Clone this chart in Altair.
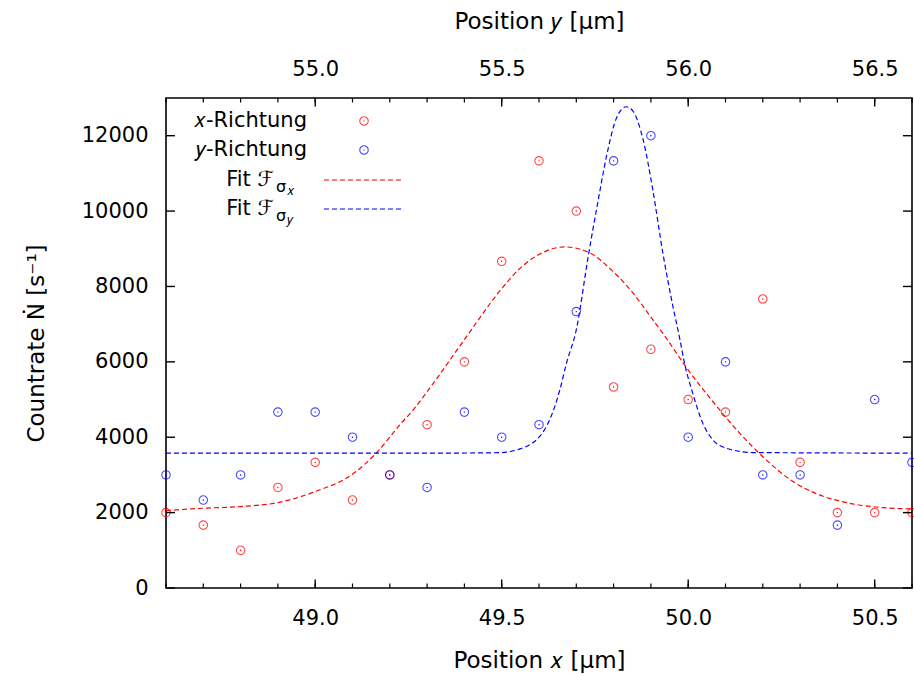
import altair as alt
import pandas as pd

# ---------------- data ----------------
pos_x = [48.6, 48.7, 48.8, 48.9, 49.0, 49.1, 49.2, 49.3, 49.4, 49.5, 49.6,
         49.7, 49.8, 49.9, 50.0, 50.1, 50.2, 50.3, 50.4, 50.5, 50.6]
pos_y = [54.6, 54.7, 54.8, 54.9, 55.0, 55.1, 55.2, 55.3, 55.4, 55.5, 55.6,
         55.7, 55.8, 55.9, 56.0, 56.1, 56.2, 56.3, 56.4, 56.5, 56.6]
rate_x = [2000, 1667, 1000, 2667, 3333, 2333, 3000, 4333, 6000, 8667, 11333,
          10000, 5333, 6333, 5000, 4667, 7667, 3333, 2000, 2000, 2000]
rate_y = [3000, 2333, 3000, 4667, 4667, 4000, 3000, 2667, 4667, 4000, 4333,
          7333, 11333, 12000, 4000, 6000, 3000, 3000, 1667, 5000, 3333]

# fit curves
fit_x_pos = [48.6, 48.7, 48.8, 48.9, 49.0, 49.1, 49.165, 49.227, 49.263, 49.317,
             49.406, 49.495, 49.549, 49.602, 49.669, 49.736, 49.798, 49.852,
             49.905, 49.941, 49.995, 50.066, 50.138, 50.209, 50.281, 50.352,
             50.432, 50.521, 50.6]
fit_x_rate = [2053, 2117, 2160, 2266, 2558, 3020, 3594, 4329, 4728, 5437,
              6675, 7880, 8480, 8860, 9049, 8890, 8401, 7827,
              7118, 6632, 5850, 4948, 4109, 3400, 2823, 2470,
              2250, 2133, 2098]

fit_y_pos = [54.6, 55.3, 55.495, 55.549, 55.575, 55.6, 55.629, 55.656, 55.674,
             55.7, 55.732, 55.759, 55.781, 55.808, 55.834, 55.852, 55.879,
             55.905, 55.932, 55.959, 55.977, 55.990, 56.012, 56.039, 56.066,
             56.102, 56.173, 56.6]
fit_y_rate = [3578, 3578, 3590, 3690, 3798, 4000, 4470, 5259, 5976,
              6852, 8800, 10305, 11455, 12475, 12768, 12651, 11899,
              10571, 8890, 7472, 6632, 5968, 5171, 4374, 3931,
              3710, 3594, 3578]

major_x = [49.0, 49.5, 50.0, 50.5]
major_y2 = [55.0, 55.5, 56.0, 56.5]
major_rate = [0, 2000, 4000, 6000, 8000, 10000, 12000]

legend_labels = ["\U0001D465-Richtung", "\U0001D466-Richtung", "Fit \u2131", "Fit \u2131"]
legend_sub = ["\u03C3", "\u03C3"]
legend_subsub = ["\U0001D465", "\U0001D466"]

# ---------------- styling ----------------
W, H = 746, 490
FONT = "DejaVu Sans"
FS = 21
TFS = 23
RED = "#ff0000"
BLUE = "#0000ff"

xs = alt.Scale(domain=[48.6, 50.6], nice=False, zero=False)
x2s = alt.Scale(domain=[54.6, 56.6], nice=False, zero=False)
ys = alt.Scale(domain=[0, 13000], nice=False, zero=False)

red_df = pd.DataFrame({"pos": pos_x, "rate": rate_x})
blue_df = pd.DataFrame({"pos": pos_y, "rate": rate_y})
rfit_df = pd.DataFrame({"pos": fit_x_pos, "rate": fit_x_rate})
bfit_df = pd.DataFrame({"pos": fit_y_pos, "rate": fit_y_rate})

common_axis = dict(ticks=False, domain=False, grid=False, labelFont=FONT, labelFontSize=FS,
                   labelColor="black", titleFont=FONT, titleFontSize=TFS,
                   titleFontWeight="normal", titleColor="black")

x_axis = alt.Axis(orient="bottom", values=major_x, format=".1f", labelPadding=19,
                  title="Position \U0001D465 [\u03BCm]", titlePadding=21, **common_axis)
x2_axis = alt.Axis(orient="top", values=major_y2, format=".1f", labelPadding=19,
                   title="Position \U0001D466 [\u03BCm]", titlePadding=25, **common_axis)
y_axis = alt.Axis(orient="left", values=major_rate, format="d", labelPadding=18,
                  title="Countrate \u1E44 [s\u207B\u00B9]", titlePadding=33,
                  **common_axis)

layers = []

# axis carriers (invisible points)
layers.append(alt.Chart(red_df).mark_point(opacity=0).encode(
    x=alt.X("pos:Q", scale=xs, axis=x_axis),
    y=alt.Y("rate:Q", scale=ys, axis=y_axis)))
layers.append(alt.Chart(blue_df).mark_point(opacity=0).encode(
    x=alt.X("pos:Q", scale=x2s, axis=x2_axis),
    y=alt.Y("rate:Q", scale=ys, axis=None)))

# data points
for df, col, sc in [(red_df, RED, xs), (blue_df, BLUE, x2s)]:
    layers.append(alt.Chart(df).mark_point(shape="circle", size=72, color=col, strokeWidth=1.1,
                                           filled=False).encode(
        x=alt.X("pos:Q", scale=sc, axis=None),
        y=alt.Y("rate:Q", scale=ys, axis=None)))
    layers.append(alt.Chart(df).mark_point(shape="circle", size=2, color=col, filled=True,
                                           opacity=1).encode(
        x=alt.X("pos:Q", scale=sc, axis=None),
        y=alt.Y("rate:Q", scale=ys, axis=None)))

# fits
layers.append(alt.Chart(rfit_df).mark_line(color=RED, strokeWidth=1.2, strokeDash=[5, 3],
                                           interpolate="monotone").encode(
    x=alt.X("pos:Q", scale=xs, axis=None),
    y=alt.Y("rate:Q", scale=ys, axis=None)))
layers.append(alt.Chart(bfit_df).mark_line(color=BLUE, strokeWidth=1.2, strokeDash=[5, 3],
                                           interpolate="monotone").encode(
    x=alt.X("pos:Q", scale=x2s, axis=None),
    y=alt.Y("rate:Q", scale=ys, axis=None)))

# inward ticks
layers.append(alt.Chart(pd.DataFrame({"pos": pos_x})).mark_rule(color="black", strokeWidth=1.2).encode(
    x=alt.X("pos:Q", scale=xs, axis=None), y=alt.value(H), y2=alt.value(H - 4.5)))
layers.append(alt.Chart(pd.DataFrame({"pos": major_x})).mark_rule(color="black", strokeWidth=1.4).encode(
    x=alt.X("pos:Q", scale=xs, axis=None), y=alt.value(H), y2=alt.value(H - 8.5)))
layers.append(alt.Chart(pd.DataFrame({"pos": pos_y})).mark_rule(color="black", strokeWidth=1.2).encode(
    x=alt.X("pos:Q", scale=x2s, axis=None), y=alt.value(0), y2=alt.value(4.5)))
layers.append(alt.Chart(pd.DataFrame({"pos": major_y2})).mark_rule(color="black", strokeWidth=1.4).encode(
    x=alt.X("pos:Q", scale=x2s, axis=None), y=alt.value(0), y2=alt.value(8.5)))
layers.append(alt.Chart(pd.DataFrame({"rate": major_rate})).mark_rule(color="black", strokeWidth=1.4).encode(
    y=alt.Y("rate:Q", scale=ys, axis=None), x=alt.value(0), x2=alt.value(9)))
layers.append(alt.Chart(pd.DataFrame({"rate": major_rate})).mark_rule(color="black", strokeWidth=1.4).encode(
    y=alt.Y("rate:Q", scale=ys, axis=None), x=alt.value(W), x2=alt.value(W - 9)))

# ---------------- legend ----------------
leg_rows_y = [23, 52, 82, 111]
for i, lab in enumerate(legend_labels):
    right_x = 141 if i < 2 else 108
    layers.append(
        alt.Chart(pd.DataFrame({"t": [lab]})).mark_text(
            font=FONT, fontSize=FS, align="right", baseline="middle", color="black").encode(
            text="t:N", x=alt.value(right_x), y=alt.value(leg_rows_y[i])))
for j in range(2):
    layers.append(
        alt.Chart(pd.DataFrame({"t": [legend_sub[j]]})).mark_text(
            font=FONT, fontSize=16, align="left", baseline="middle", color="black").encode(
            text="t:N", x=alt.value(110), y=alt.value(leg_rows_y[2 + j] + 7)))
    layers.append(
        alt.Chart(pd.DataFrame({"t": [legend_subsub[j]]})).mark_text(
            font=FONT, fontSize=13, align="left", baseline="middle", color="black").encode(
            text="t:N", x=alt.value(121), y=alt.value(leg_rows_y[2 + j] + 11)))

for k, col in enumerate([RED, BLUE]):
    d = pd.DataFrame({"t": [legend_labels[k]]})
    layers.append(alt.Chart(d).mark_point(shape="circle", size=72, color=col, strokeWidth=1.1).encode(
        x=alt.value(198), y=alt.value(leg_rows_y[k])))
    layers.append(alt.Chart(d).mark_point(shape="circle", size=2, color=col, filled=True).encode(
        x=alt.value(198), y=alt.value(leg_rows_y[k])))
    layers.append(alt.Chart(d).mark_rule(color=col, strokeWidth=1.2, strokeDash=[5, 3]).encode(
        x=alt.value(158), x2=alt.value(236), y=alt.value(leg_rows_y[2 + k])))

chart = alt.layer(*layers).resolve_scale(
    x="independent"
).resolve_axis(
    x="independent", y="independent"
).properties(
    width=W, height=H,
    padding={"left": 166, "top": 98, "right": 2, "bottom": 86},
    autosize=alt.AutoSizeParams(type="none"),
    background="white",
).configure_view(stroke="black", strokeWidth=1.6)

chart.save("out.html", embed_options={"renderer": "svg", "actions": False})
